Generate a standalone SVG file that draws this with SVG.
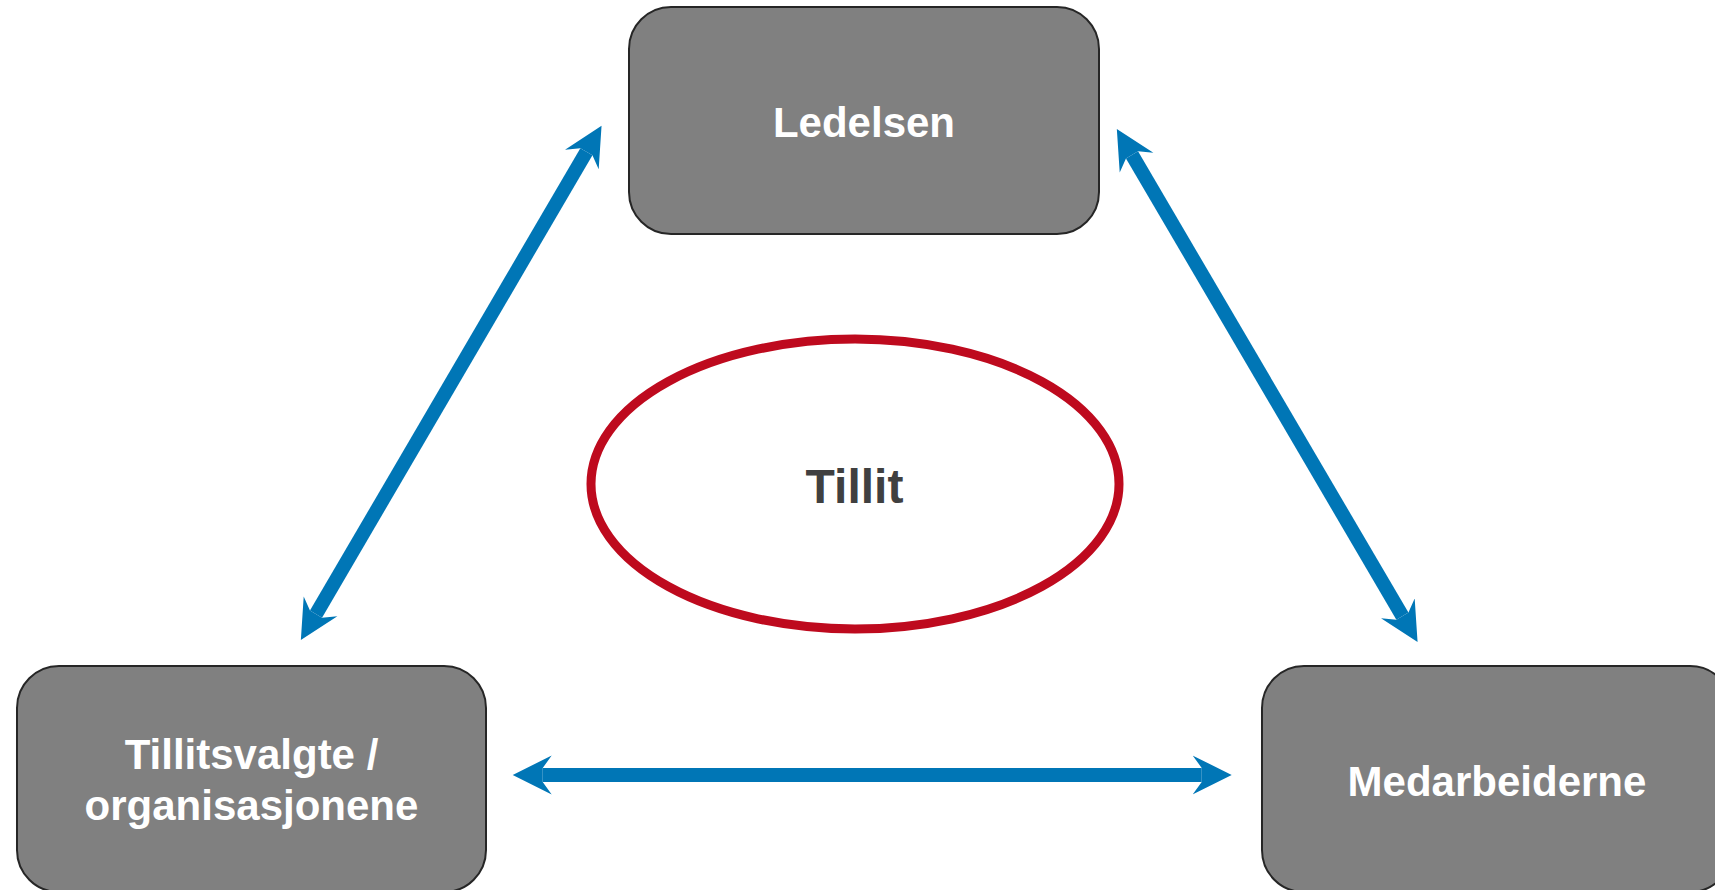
<svg xmlns="http://www.w3.org/2000/svg" width="1715" height="890" viewBox="0 0 1715 890">
  <style>
    .box { fill: #808080; stroke: #262626; stroke-width: 2; }
    .lbl { font-family: "Liberation Sans", Arial, sans-serif; font-weight: bold; font-size: 42px; fill: #ffffff; text-anchor: middle; }
    .conn { stroke: #0076B6; stroke-width: 14; fill: none; marker-start: url(#ah); marker-end: url(#ah); }
    .center { fill: #ffffff; stroke: #BE0A1E; stroke-width: 9; }
    .clbl { font-family: "Liberation Sans", Arial, sans-serif; font-weight: bold; font-size: 48px; fill: #404040; text-anchor: middle; }
  </style>
  <defs>
    <marker id="ah" markerUnits="userSpaceOnUse" viewBox="0 0 40 40" markerWidth="40" markerHeight="40" refX="9" refY="20" orient="auto-start-reverse">
      <path d="M39,20 L0,0.5 L9,13 L9,27 L0,39.5 Z" fill="#0076B6"/>
    </marker>
  </defs>
  <rect width="1715" height="890" fill="#ffffff"/>
  <g id="connectors">
    <line class="conn" x1="316" y1="614.1" x2="586.4" y2="151.7"/>
    <line class="conn" x1="1132" y1="154.9" x2="1402.4" y2="616.1"/>
    <line class="conn" x1="542.7" y1="775" x2="1201.7" y2="775"/>
  </g>
  <g id="ledelsen">
    <rect class="box" x="629" y="7" width="470" height="227" rx="42" ry="42"/>
    <text class="lbl" x="864" y="137">Ledelsen</text>
  </g>
  <g id="tillitsvalgte">
    <rect class="box" x="17" y="666" width="469" height="226" rx="42" ry="42"/>
    <text class="lbl" x="251.5" y="769">Tillitsvalgte /</text>
    <text class="lbl" x="251.5" y="820">organisasjonene</text>
  </g>
  <g id="medarbeiderne">
    <rect class="box" x="1262" y="666" width="470" height="226" rx="42" ry="42"/>
    <text class="lbl" x="1497" y="796">Medarbeiderne</text>
  </g>
  <g id="tillit">
    <ellipse class="center" cx="855" cy="484" rx="264" ry="145"/>
    <text class="clbl" x="854.5" y="503">Tillit</text>
  </g>
</svg>
